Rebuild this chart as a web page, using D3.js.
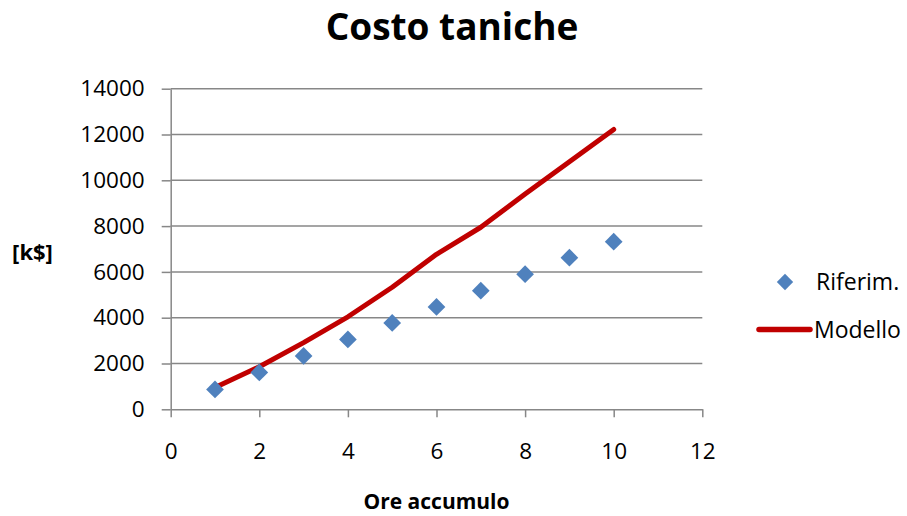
<!DOCTYPE html>
<html>
<head>
<meta charset="utf-8">
<script src="https://cdn.jsdelivr.net/npm/d3@7"></script>
<style>
  html, body { margin: 0; padding: 0; background: #fff; }
  svg { display: block; font-family: "Open Sans", "Noto Sans", sans-serif; }
</style>
</head>
<body>
<svg id="chart" width="907" height="516"></svg>
<script>
// Ore di accumulo (asse x)
const ore = [1, 2, 3, 4, 5, 6, 7, 8, 9, 10];
// Costo di riferimento [k$]
const riferim = [870, 1610, 2330, 3050, 3770, 4470, 5180, 5900, 6620, 7320];
// Costo calcolato dal modello [k$]
const modello = [950, 1860, 2910, 4040, 5330, 6770, 7950, 9400, 10810, 12220];
// Etichette degli assi
const xTicks = [0, 2, 4, 6, 8, 10, 12];
const yTicks = [0, 2000, 4000, 6000, 8000, 10000, 12000, 14000];
const seriesNames = ["Riferim.", "Modello"];

const svg = d3.select("#chart");
const gridColor = "#878787";
const blue = "#4F81BD";
const red = "#C00000";

const x = d3.scaleLinear().domain([0, 12]).range([170.7, 702.3]);
const y = d3.scaleLinear().domain([0, 14000]).range([409.3, 88.7]);

// Griglia orizzontale
svg.append("g")
  .selectAll("line")
  .data(yTicks.filter(v => v > 0))
  .join("line")
  .attr("x1", x(0)).attr("x2", x(12))
  .attr("y1", d => y(d)).attr("y2", d => y(d))
  .attr("stroke", gridColor)
  .attr("stroke-width", 1.5);

// Asse y
const yAxis = svg.append("g")
  .attr("transform", `translate(${x(0)},0)`)
  .call(d3.axisLeft(y).tickValues(yTicks).tickSize(9).tickSizeOuter(0).tickPadding(17).tickFormat(d3.format("d")));
// Asse x
const xAxis = svg.append("g")
  .attr("transform", `translate(0,${y(0)})`)
  .call(d3.axisBottom(x).tickValues(xTicks).tickSize(8).tickSizeOuter(0).tickPadding(26).tickFormat(d3.format("d")));

[yAxis, xAxis].forEach(g => {
  g.select(".domain").attr("stroke", gridColor).attr("stroke-width", 1.5);
  g.selectAll(".tick line").attr("stroke", gridColor).attr("stroke-width", 1.5);
  g.selectAll(".tick text")
    .attr("fill", "#000")
    .style("font-family", "'Open Sans', sans-serif")
    .style("font-size", "22.5px");
});

// Serie "Modello"
const line = d3.line().x((d, i) => x(ore[i])).y(d => y(d));
svg.append("path")
  .datum(modello)
  .attr("d", line)
  .attr("fill", "none")
  .attr("stroke", red)
  .attr("stroke-width", 5)
  .attr("stroke-linecap", "round")
  .attr("stroke-linejoin", "round");

// Serie "Riferim."
const diamond = d3.symbol().type(d3.symbolDiamond2).size(200);
svg.append("g")
  .selectAll("path")
  .data(riferim)
  .join("path")
  .attr("d", diamond)
  .attr("transform", (d, i) => `translate(${x(ore[i])},${y(d)})`)
  .attr("fill", blue);

// Titolo
svg.append("text")
  .attr("x", 452).attr("y", 40)
  .attr("text-anchor", "middle")
  .style("font-size", "37px")
  .style("font-weight", "bold")
  .text("Costo taniche");

// Titoli degli assi
svg.append("text")
  .attr("x", 436.5).attr("y", 509)
  .attr("text-anchor", "middle")
  .style("font-size", "21px")
  .style("font-weight", "bold")
  .text("Ore accumulo");

svg.append("text")
  .attr("x", 32.5).attr("y", 260)
  .attr("text-anchor", "middle")
  .style("font-size", "22px")
  .style("font-weight", "bold")
  .text("[k$]");

// Legenda
const legend = svg.append("g");
legend.append("path")
  .attr("d", d3.symbol().type(d3.symbolDiamond2).size(170))
  .attr("transform", "translate(785,282)")
  .attr("fill", blue);
legend.append("text")
  .attr("x", 816).attr("y", 290)
  .style("font-size", "23px")
  .text(seriesNames[0]);
legend.append("line")
  .attr("x1", 759).attr("x2", 810)
  .attr("y1", 329.5).attr("y2", 329.5)
  .attr("stroke", red)
  .attr("stroke-width", 5.5)
  .attr("stroke-linecap", "round");
legend.append("text")
  .attr("x", 814).attr("y", 338)
  .style("font-size", "23px")
  .text(seriesNames[1]);
</script>
</body>
</html>
